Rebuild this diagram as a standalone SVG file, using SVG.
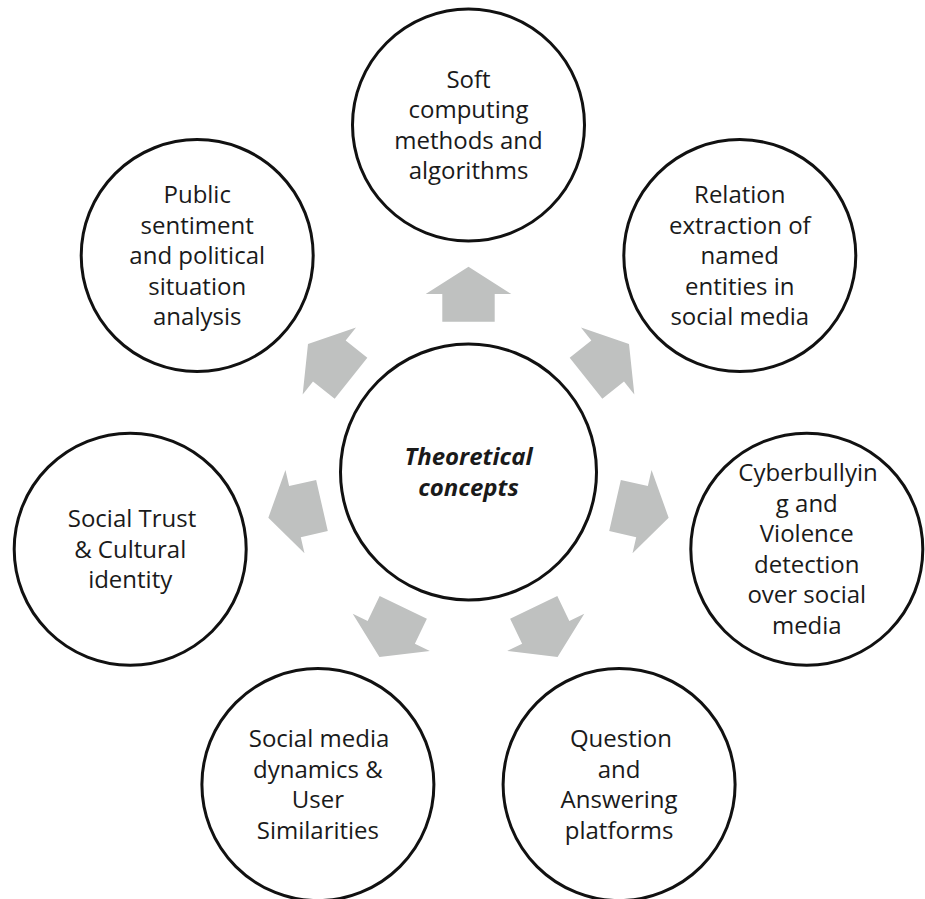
<svg xmlns="http://www.w3.org/2000/svg" xmlns:xlink="http://www.w3.org/1999/xlink" width="925" height="899" viewBox="0 0 925 899">
<style>
.node{fill:#ffffff;stroke:#111111;stroke-width:3}
.lbl{font-family:"Open Sans","Liberation Sans",sans-serif;font-size:24px;fill:#1a1a1a;text-anchor:middle}
.ctr{font-weight:bold;font-style:italic}
.arrow{fill:#bfc1c0;stroke:none}
</style>
<defs>
<polygon id="arr" points="0,-205.3 42.8,-178 26.2,-178 26.2,-150.3 -26.2,-150.3 -26.2,-178 -42.8,-178"/>
</defs>
<rect width="925" height="899" fill="#ffffff"/>
<g id="connectors" class="arrow">
<use xlink:href="#arr" href="#arr" transform="translate(468.5 472) rotate(0)"/>
<use xlink:href="#arr" href="#arr" transform="translate(468.5 472) rotate(51.4286)"/>
<use xlink:href="#arr" href="#arr" transform="translate(468.5 472) rotate(102.857)"/>
<use xlink:href="#arr" href="#arr" transform="translate(468.5 472) rotate(154.286)"/>
<use xlink:href="#arr" href="#arr" transform="translate(468.5 472) rotate(205.714)"/>
<use xlink:href="#arr" href="#arr" transform="translate(468.5 472) rotate(257.143)"/>
<use xlink:href="#arr" href="#arr" transform="translate(468.5 472) rotate(308.571)"/>
</g>
<g id="center">
<circle class="node" cx="468.5" cy="472" r="128"/>
<text class="lbl ctr" x="468.5" y="465">Theoretical</text>
<text class="lbl ctr" x="468.5" y="495.5">concepts</text>
</g>
<g id="soft-computing">
<circle class="node" cx="468.5" cy="125" r="116"/>
<text class="lbl" x="468.5" y="87.5">Soft</text>
<text class="lbl" x="468.5" y="118">computing</text>
<text class="lbl" x="468.5" y="148.5">methods and</text>
<text class="lbl" x="468.5" y="179">algorithms</text>
</g>
<g id="relation-extraction">
<circle class="node" cx="739.8" cy="255.6" r="116"/>
<text class="lbl" x="739.8" y="203">Relation</text>
<text class="lbl" x="739.8" y="233.5">extraction of</text>
<text class="lbl" x="739.8" y="264">named</text>
<text class="lbl" x="739.8" y="294.5">entities in</text>
<text class="lbl" x="739.8" y="325">social media</text>
</g>
<g id="cyberbullying">
<circle class="node" cx="806.8" cy="549.2" r="116"/>
<text class="lbl" x="808" y="481">Cyberbullyin</text>
<text class="lbl" x="806.8" y="511.5">g and</text>
<text class="lbl" x="806.8" y="542">Violence</text>
<text class="lbl" x="806.8" y="572.5">detection</text>
<text class="lbl" x="806.8" y="603">over social</text>
<text class="lbl" x="806.8" y="633.5">media</text>
</g>
<g id="question-answering">
<circle class="node" cx="619.1" cy="784.6" r="116"/>
<text class="lbl" x="621" y="747">Question</text>
<text class="lbl" x="619.1" y="777.5">and</text>
<text class="lbl" x="619.1" y="808">Answering</text>
<text class="lbl" x="619.1" y="838.5">platforms</text>
</g>
<g id="social-media-dynamics">
<circle class="node" cx="317.9" cy="784.6" r="116"/>
<text class="lbl" x="319" y="747">Social media</text>
<text class="lbl" x="317.9" y="777.5">dynamics &amp;</text>
<text class="lbl" x="317.9" y="808">User</text>
<text class="lbl" x="317.9" y="838.5">Similarities</text>
</g>
<g id="social-trust">
<circle class="node" cx="130.2" cy="549.2" r="116"/>
<text class="lbl" x="132" y="527">Social Trust</text>
<text class="lbl" x="130.2" y="557.5">&amp; Cultural</text>
<text class="lbl" x="130.2" y="588">identity</text>
</g>
<g id="public-sentiment">
<circle class="node" cx="197.2" cy="255.6" r="116"/>
<text class="lbl" x="197.2" y="203">Public</text>
<text class="lbl" x="197.2" y="233.5">sentiment</text>
<text class="lbl" x="197.2" y="264">and political</text>
<text class="lbl" x="197.2" y="294.5">situation</text>
<text class="lbl" x="197.2" y="325">analysis</text>
</g>
</svg>
